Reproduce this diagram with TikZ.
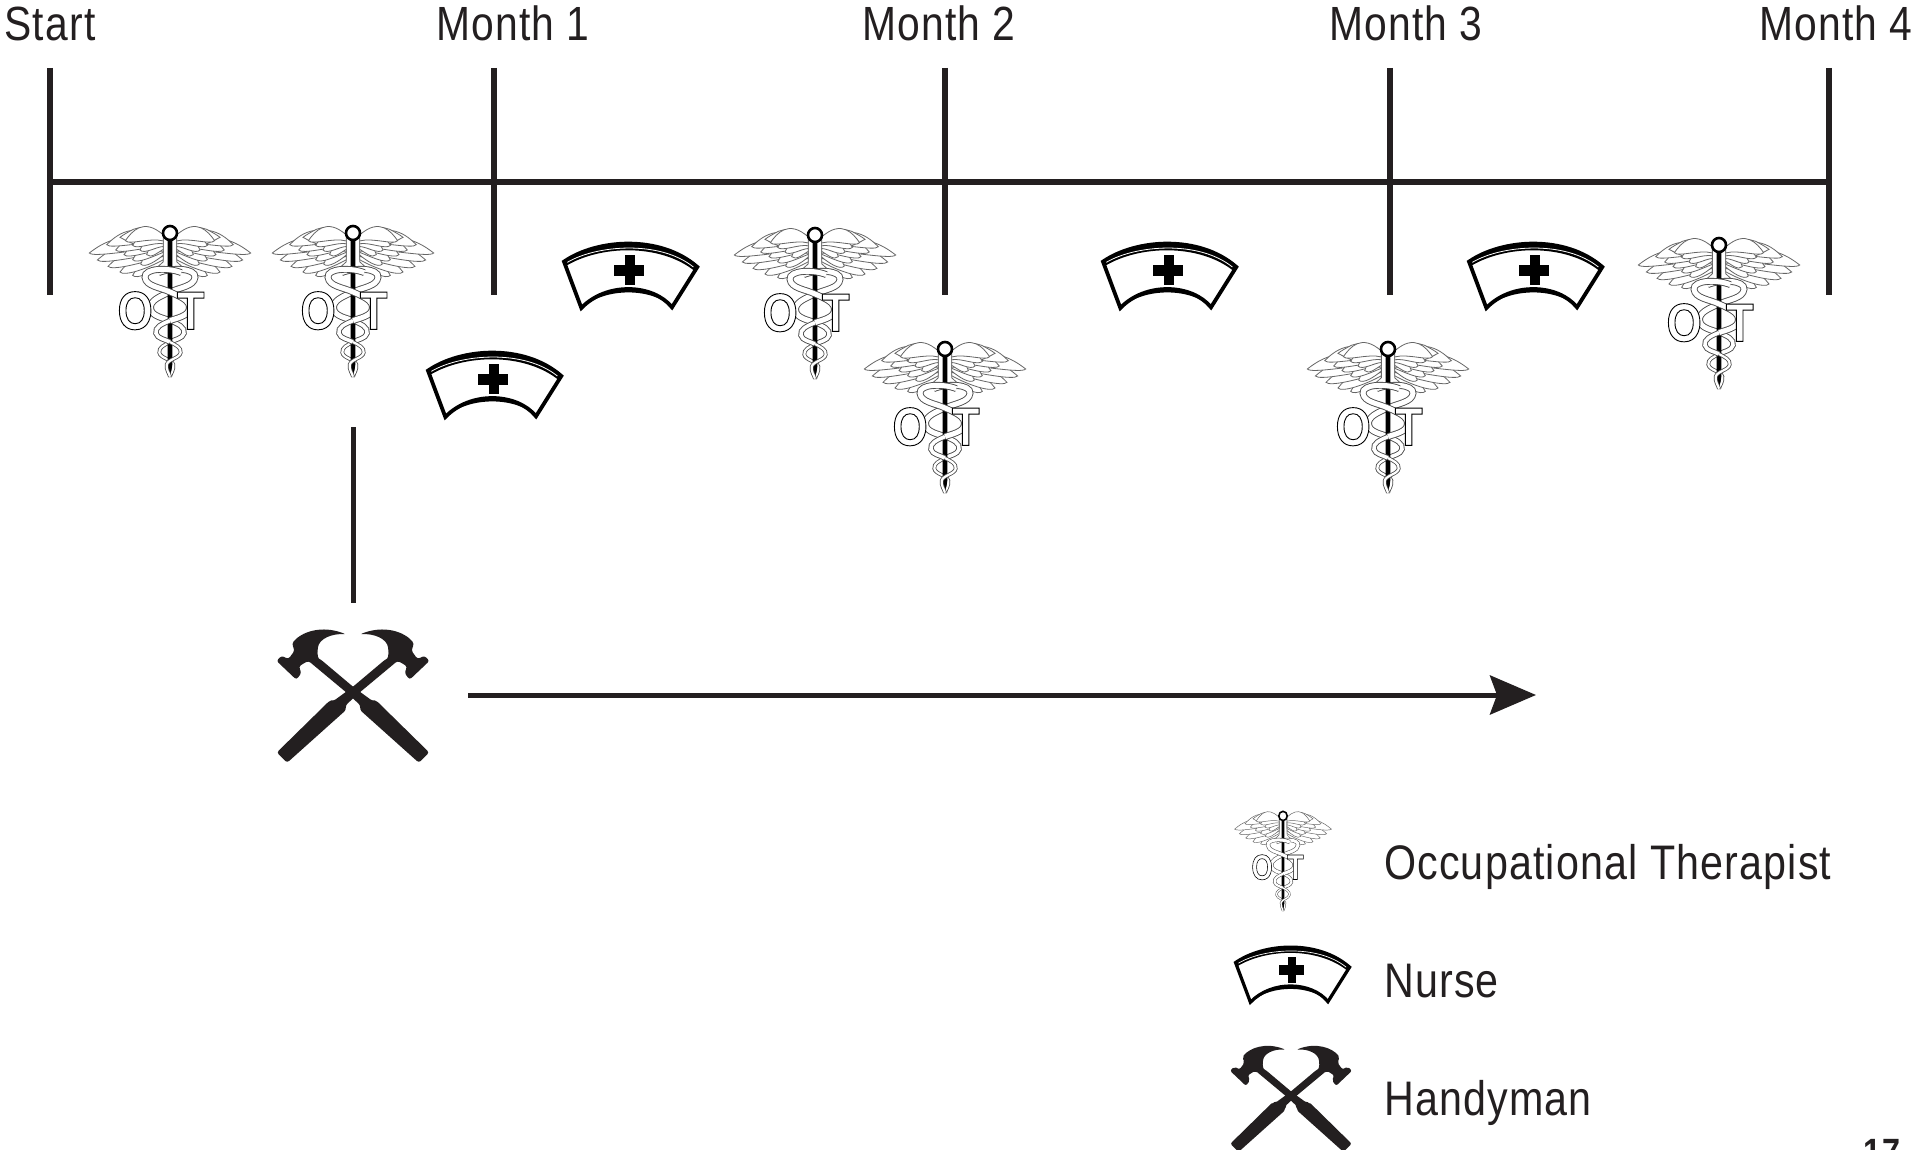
\documentclass[tikz,border=0pt]{standalone}
\usepackage{fontspec}
\usetikzlibrary{arrows.meta}
\setmainfont[FakeStretch=0.85,LetterSpace=2.4]{Liberation Sans}
\newfontfamily\otfont[FakeStretch=0.84]{Liberation Sans}
\definecolor{ink}{HTML}{231F20}
% one row of feathers: root x, list of tips
\newcommand{\featherrow}[1]{%
  \foreach \tx/\ty in {#1}{
    \draw[wingline,fill=white] (-20,{0.6*\ty+30}) .. controls ({0.6*\tx},{\ty-70}) and ({0.85*\tx},{\ty-28}) .. (\tx,\ty)
      .. controls ({\tx+12},{\ty+14}) and ({0.45*\tx},{\ty-10}) .. (-20,{0.6*\ty+48}) -- cycle;
  }
}
\newcommand{\wingshape}{%
  \featherrow{-112/222,-150/212,-186/195,-218/176,-242/155}
  \featherrow{-88/188,-112/175,-138/160,-163/146,-190/130}
  \draw[wingline,fill=white] (-24,115) .. controls (-35,75) and (-75,72) .. (-110,84)
    .. controls (-125,92) and (-140,100) .. (-150,108)
    .. controls (-110,130) and (-60,150) .. (-20,150) -- cycle;
  \featherrow{-70/160,-90/146,-112/132,-134/118}
}
\newcommand{\snakeupper}{(34,214) .. controls (-5,198) and (-78,200) .. (-75,228)
   .. controls (-72,255) and (-30,258) .. (0,272)
   .. controls (30,285) and (62,298) .. (58,322)
   .. controls (55,345) and (20,350) .. (0,358)}
\newcommand{\snakemiddle}{(0,358) .. controls (-25,368) and (-46,378) .. (-42,396)
   .. controls (-38,412) and (-15,414) .. (0,422)}
\newcommand{\snakelower}{(0,422) .. controls (18,432) and (34,438) .. (32,454)
   .. controls (30,470) and (-6,474) .. (-10,490) .. controls (-12,505) and (-3,515) .. (0,526)}
\newcommand{\snakebody}{%
  \draw[snake,line width=\lwf*0.9pt,double distance=\lwf*5pt] \snakeupper;
  \draw[snake,line width=\lwf*0.9pt,double distance=\lwf*3.6pt] \snakemiddle;
  \draw[snake,line width=\lwf*0.8pt,double distance=\lwf*2.2pt] \snakelower;
}
\tikzset{
  lwf/.store in=\lwf, lwf=1,
  wingline/.style={draw=black!60,line width=\lwf*0.8pt},
  snake/.style={draw=black!70,double=white},
  barline/.style={draw=ink,line width=5.4pt},
  flowline/.style={draw=ink,line width=5pt},
  arrowline/.style={flowline,-{Stealth[length=46pt,width=39pt,inset=7pt]}},
  lab/.style={anchor=base,inner sep=0pt,text=ink,font=\fontsize{48}{48}\selectfont},
  leg/.style={anchor=base west,inner sep=0pt,text=ink,font=\fontsize{48.5}{48.5}\selectfont},
  caduceus/.pic={
    \begin{scope}[x=0.3333pt,y=-0.3333pt,shift={(0,-68)}]
      \wingshape
      \begin{scope}[xscale=-1]\wingshape\end{scope}
      \begin{scope}[xscale=-1]\snakebody\end{scope}
      \fill[black] (-7,115) -- (7,115) -- (7,490) -- (0,530) -- (-7,490) -- cycle;
      \snakebody
      \draw[black,line width=\lwf*2.6pt,fill=white] (0,95) circle (21);
      \node[inner sep=0pt,anchor=base west,font=\otfont\bfseries\fontsize{54}{54}\selectfont,transform shape] (ot) at (-158,384)
        {\color{white}\special{pdf:code 2 Tr 0 G 0.9 w}O\kern24ptT\special{pdf:code 0 Tr}};
    \end{scope}
  },
  nursecap/.pic={
    \begin{scope}[x=0.3333pt,y=-0.3333pt]
      \draw[black,line width=\lwf*3.8pt,line join=miter,fill=white] (-198,-40) .. controls (-100,-108) and (90,-122) .. (202,-24)
        -- (126,97) .. controls (70,27) and (-70,20) .. (-146,99) -- cycle;
      \fill[black] (-198,-40) .. controls (-100,-108) and (90,-122) .. (202,-24)
        -- (194,-12) .. controls (90,-95) and (-90,-90) .. (-194,-26) -- cycle;
      \fill[black] (126,97) .. controls (70,27) and (-70,20) .. (-146,99) .. controls (-70,34) and (70,40) .. (126,97) -- cycle;
      \draw[white,line width=\lwf*0.8pt] (-188,-38) .. controls (-100,-90) and (90,-105) .. (190,-24);
      \fill[black] (-15,-60) rectangle (15,30);
      \fill[black] (-47,-30) rectangle (43,2);
    \end{scope}
  },
  hammer/.pic={
    \begin{scope}[x=0.3333pt,y=-0.3333pt]
      \foreach \s in {1,-1}{
        \begin{scope}[xscale=\s]
          \fill[ink,rounded corners=\lwf*2.5pt] (-222,182) -- (-192,212) -- (-20,58) -- (-22,45) -- (16,10)
            -- (130,-85) -- (148,-75) -- (158,-68) -- (150,-50) -- (165,-30) -- (223,-85) -- (208,-100)
            -- (188,-90) -- (170,-115) -- (178,-135)
            .. controls (150,-170) and (90,-190) .. (20,-162)
            .. controls (60,-165) and (100,-150) .. (103,-115) .. controls (104,-100) and (100,-92) .. (93,-88)
            -- (-2,-8) -- (-57,32) -- (-67,30) -- cycle;
        \end{scope}
      }
    \end{scope}
  }
}
\begin{document}
\begin{tikzpicture}[x=1pt,y=-1pt]
\useasboundingbox[fill=white] (0,0) rectangle (1917,1150);
% timeline
\foreach \n/\x in {s/50,a/494,b/945,c/1390,d/1829}{
  \coordinate (t\n) at (\x,68);
  \coordinate (u\n) at (\x,295);
  \coordinate (h\n) at (\x,182);
  \draw[barline] (t\n) -- (u\n);
}
\draw[barline] (hs) -- (hd);
% labels
\node[lab] (lstart) at (50,41) {Start};
\node[lab] (l1) at (513,41) {Month 1};
\node[lab] (l2) at (939,41) {Month 2};
\node[lab] (l3) at (1406,41) {Month 3};
\node[lab] (l4) at (1836,41) {Month 4};
% therapists
\path (170,224) pic {caduceus};
\path (353,224) pic {caduceus};
\path (815,226) pic {caduceus};
\path (945,340) pic {caduceus};
\path (1388,340) pic {caduceus};
\path (1719,236) pic {caduceus};
% nurses
\path (494,384) pic {nursecap};
\path (630,275) pic {nursecap};
\path (1169,275) pic {nursecap};
\path (1535,275) pic {nursecap};
% handyman
\path (353,690) pic[scale=1.03,transform shape,lwf=1.03] {hammer};
\coordinate (ca) at (353,427);
\coordinate (cb) at (353,603);
\draw[flowline] (ca) -- (cb);
\coordinate (aa) at (468,695);
\coordinate (ab) at (1536,695);
\draw[arrowline] (aa) -- (ab);
% legend
\path (1283,810) pic[xscale=0.6,yscale=0.66,transform shape,lwf=0.6] {caduceus};
\path (1292,974) pic[scale=0.855,transform shape,lwf=0.855] {nursecap};
\path (1291,1094) pic[scale=0.82,transform shape,lwf=0.82] {hammer};
\node[leg] (t1) at (1384,879) {Occupational Therapist};
\node[leg] (t2) at (1384,997) {Nurse};
\node[leg] (t3) at (1384,1115) {Handyman};
\node[anchor=base,inner sep=0pt,text=ink,font=\bfseries\fontsize{38}{38}\selectfont] (pg) at (1882,1165) {17};
\end{tikzpicture}
\end{document}
